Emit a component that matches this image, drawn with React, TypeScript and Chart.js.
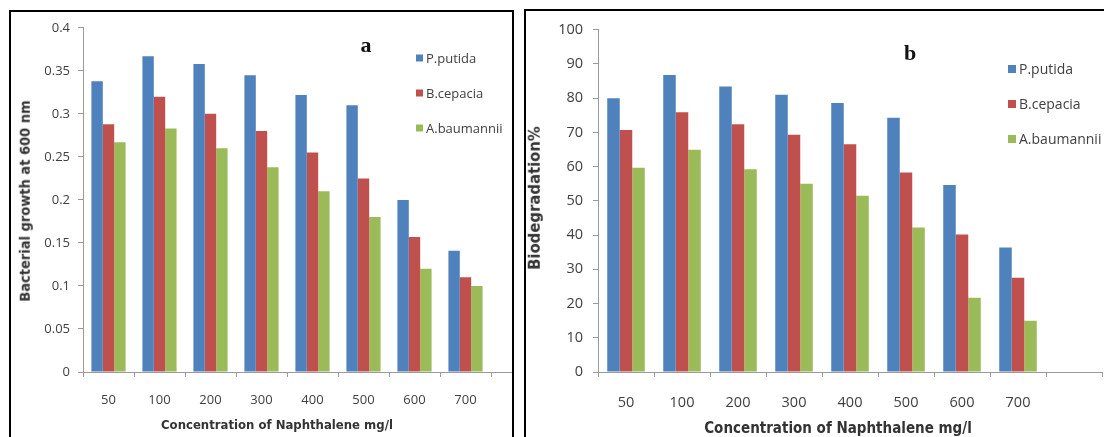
import React, { useEffect, useRef } from 'react';
import { Chart, registerables } from 'chart.js';

Chart.register(...registerables);

// ---------- data ----------
const categories = ['50', '100', '200', '300', '400', '500', '600', '700', ''];
const seriesNames = ['P.putida', 'B.cepacia', 'A.baumannii'];
const seriesColors = ['#4F81BD', '#C0504D', '#9BBB59'];

// panel a: bacterial growth at 600 nm
const growthPPutida = [0.338, 0.367, 0.358, 0.345, 0.322, 0.31, 0.2, 0.141];
const growthBCepacia = [0.288, 0.32, 0.3, 0.28, 0.255, 0.225, 0.157, 0.11];
const growthABaumannii = [0.267, 0.283, 0.26, 0.238, 0.21, 0.18, 0.12, 0.1];
const growthTickValues = [0, 0.05, 0.1, 0.15, 0.2, 0.25, 0.3, 0.35, 0.4];
const growthTickLabels = ['0', '0.05', '0.1', '0.15', '0.2', '0.25', '0.3', '0.35', '0.4'];

// panel b: biodegradation %
const degPPutida = [80.0, 86.8, 83.4, 81.0, 78.6, 74.3, 54.6, 36.4];
const degBCepacia = [70.7, 75.9, 72.4, 69.3, 66.5, 58.3, 40.2, 27.5];
const degABaumannii = [59.7, 64.9, 59.2, 55.0, 51.5, 42.2, 21.7, 15.0];
const degTickValues = [0, 10, 20, 30, 40, 50, 60, 70, 80, 90, 100];
const degTickLabels = ['0', '10', '20', '30', '40', '50', '60', '70', '80', '90', '100'];

const xTitle = 'Concentration of Naphthalene mg/l';
const yTitleA = 'Bacterial growth at 600 nm';
const yTitleB = 'Biodegradation%';

// ---------- styles ----------
const axisColor = '#9A9A9A';
const tickColor = '#404040';
const fontFamily = "'Open Sans', 'Liberation Sans', sans-serif";
const titleFamily = "'Liberation Sans Narrow', 'DejaVu Sans Condensed', 'Open Sans', sans-serif";

type PanelProps = {
  series: number[][];
  tickValues: number[];
  tickLabels: string[];
  yMax: number;
  width: number;
  height: number;
  yWidth: number;
  xHeight: number;
  padTop: number;
  fontSize: number;
  tickPadX: number;
  tickPadY: number;
};

function BarChart(p: PanelProps) {
  const ref = useRef<HTMLCanvasElement>(null);
  useEffect(() => {
    const chart = new Chart(ref.current as HTMLCanvasElement, {
      type: 'bar',
      data: {
        labels: categories,
        datasets: p.series.map((d, i) => ({
          label: seriesNames[i],
          data: d,
          backgroundColor: seriesColors[i],
          borderWidth: 0,
          categoryPercentage: 0.67,
          barPercentage: 1,
        })),
      },
      options: {
        animation: false,
        responsive: false,
        devicePixelRatio: 1,
        layout: { padding: { top: p.padTop, right: 10, left: 0, bottom: 0 } },
        plugins: {
          legend: { display: false },
          tooltip: { enabled: false },
          title: { display: false },
        },
        scales: {
          x: {
            grid: { drawOnChartArea: false, tickLength: 5, color: axisColor, offset: true },
            border: { color: axisColor, width: 1 },
            ticks: {
              font: { family: fontFamily, size: p.fontSize },
              color: tickColor,
              padding: p.tickPadX,
              maxRotation: 0,
              autoSkip: false,
            },
            afterFit: (s: any) => {
              s.height = p.xHeight;
            },
          },
          y: {
            min: 0,
            max: p.yMax,
            grid: { drawOnChartArea: false, tickLength: 5, color: axisColor },
            border: { color: axisColor, width: 1 },
            ticks: {
              font: { family: fontFamily, size: p.fontSize },
              color: tickColor,
              padding: p.tickPadY,
              callback: (_v: any, i: number) => p.tickLabels[i],
            },
            afterBuildTicks: (s: any) => {
              s.ticks = p.tickValues.map((v) => ({ value: v }));
            },
            afterFit: (s: any) => {
              s.width = p.yWidth;
            },
          },
        },
      },
    } as any);
    return () => chart.destroy();
  }, []);
  return (
    <canvas
      ref={ref}
      width={p.width}
      height={p.height}
      style={{ position: 'absolute', left: 0, top: 0, width: p.width, height: p.height }}
    />
  );
}

function Legend({ left, top, gap, fontSize, square }: { left: number; top: number; gap: number; fontSize: number; square: number }) {
  return (
    <>
      {seriesNames.map((name, i) => (
        <div
          key={name}
          style={{
            position: 'absolute',
            left,
            top: top + i * gap,
            transform: 'translateY(-50%)',
            display: 'flex',
            alignItems: 'center',
            whiteSpace: 'nowrap',
            fontFamily,
            fontSize,
            color: tickColor,
            lineHeight: 1,
          }}
        >
          <span style={{ display: 'inline-block', width: square, height: square, background: seriesColors[i], marginRight: 3 }} />
          <span>{name}</span>
        </div>
      ))}
    </>
  );
}

const textAt = (x: number, y: number, extra: React.CSSProperties, rotate = false): React.CSSProperties => ({
  position: 'absolute',
  left: x,
  top: y,
  transform: `translate(-50%, -50%)${rotate ? ' rotate(-90deg)' : ''}`,
  whiteSpace: 'nowrap',
  lineHeight: 1,
  ...extra,
});

export default function App() {
  return (
    <div style={{ position: 'fixed', left: 0, top: 0, width: 1104, height: 437, overflow: 'hidden', background: '#fff' }}>
      {/* panel a */}
      <div
        style={{
          position: 'absolute',
          left: 9,
          top: 10,
          width: 505,
          height: 450,
          border: '2px solid #000',
          boxSizing: 'border-box',
          overflow: 'hidden',
        }}
      >
        <BarChart
          series={[growthPPutida, growthBCepacia, growthABaumannii]}
          tickValues={growthTickValues}
          tickLabels={growthTickLabels}
          yMax={0.4}
          width={541}
          height={424}
          yWidth={72}
          xHeight={64}
          padTop={12}
          fontSize={13}
          tickPadX={15}
          tickPadY={8}
        />
      </div>
      {/* panel b */}
      <div
        style={{
          position: 'absolute',
          left: 524,
          top: 9,
          width: 620,
          height: 450,
          border: '2px solid #000',
          boxSizing: 'border-box',
          overflow: 'hidden',
        }}
      >
        <BarChart
          series={[degPPutida, degBCepacia, degABaumannii]}
          tickValues={degTickValues}
          tickLabels={degTickLabels}
          yMax={100}
          width={586}
          height={425}
          yWidth={72}
          xHeight={64}
          padTop={14}
          fontSize={14.5}
          tickPadX={17}
          tickPadY={10}
        />
      </div>

      {/* panel a texts */}
      <div style={textAt(366, 45, { fontFamily: "'Liberation Serif', serif", fontWeight: 'bold', fontSize: 22, color: '#111' })}>a</div>
      <Legend left={416} top={58} gap={35} fontSize={13} square={7} />
      <div style={textAt(277, 424, { fontFamily: titleFamily, fontWeight: 'bold', fontSize: 13, color: '#333' })}>{xTitle}</div>
      <div style={textAt(25, 201, { fontFamily: titleFamily, fontWeight: 'bold', fontSize: 14.5, color: '#333' }, true)}>{yTitleA}</div>

      {/* panel b texts */}
      <div style={textAt(910, 53, { fontFamily: "'Liberation Serif', serif", fontWeight: 'bold', fontSize: 22, color: '#111' })}>b</div>
      <Legend left={1008} top={69} gap={35} fontSize={14} square={8} />
      <div style={textAt(838, 428, { fontFamily: titleFamily, fontWeight: 'bold', fontSize: 15, color: '#333' })}>{xTitle}</div>
      <div style={textAt(535, 198, { fontFamily: titleFamily, fontWeight: 'bold', fontSize: 16.5, color: '#333' }, true)}>{yTitleB}</div>
    </div>
  );
}
